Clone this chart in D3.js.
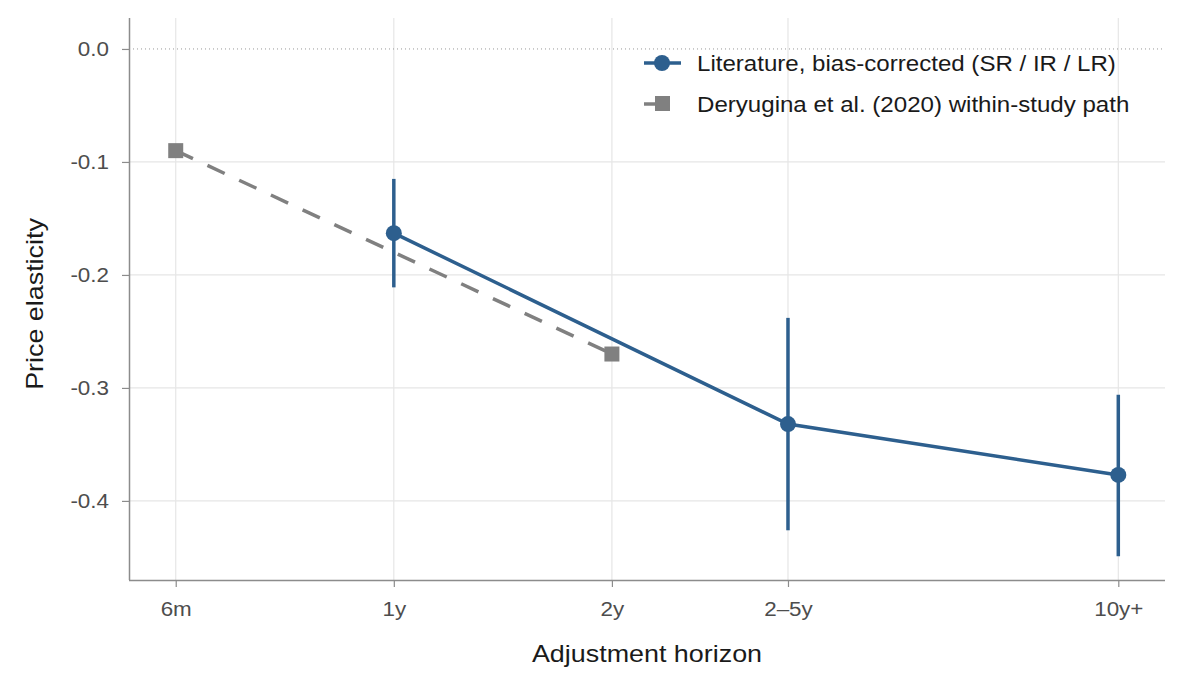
<!DOCTYPE html>
<html><head><meta charset="utf-8">
<script src="https://cdn.jsdelivr.net/npm/d3@7"></script>
<style>body{margin:0;background:#fff}svg{display:block}text{font-family:"Liberation Sans",Arial,sans-serif}</style>
</head><body><svg id="c" width="1200" height="687"></svg>
<script>
// Data
const tickValues = [0.5, 1, 2, 3.5, 10];
const tickLabels = ["6m", "1y", "2y", "2–5y", "10y+"];
const litX = [1, 3.5, 10];
const litY = [-0.163, -0.332, -0.377];
const litLo = [-0.211, -0.426, -0.449];
const litHi = [-0.115, -0.238, -0.306];
const derX = [0.5, 2];
const derY = [-0.09, -0.27];
const yTicks = [0.0, -0.1, -0.2, -0.3, -0.4];

const blue = "#2d5f8e", gray = "#808080";
const STRETCH = 1.12;
const svg = d3.select("#c");
const L = 129, R = 1165, T = 18, B = 580;
const x = d3.scaleLog().domain([0.431, 11.6]).range([L, R]);
const y = d3.scaleLinear().domain([-0.47, 0.0274]).range([B, T]);

function stretch(sel) {
  sel.each(function() {
    const len = this.getComputedTextLength();
    d3.select(this).attr("textLength", len * STRETCH).attr("lengthAdjust", "spacingAndGlyphs");
  });
}

// grid
const g = svg.append("g");
g.selectAll(".vg").data(tickValues).enter().append("line")
  .attr("x1", d => x(d)).attr("x2", d => x(d)).attr("y1", T).attr("y2", B)
  .attr("stroke", "#e6e6e6").attr("stroke-width", 1.2);
g.selectAll(".hg").data(yTicks.filter(d => d !== 0)).enter().append("line")
  .attr("x1", L).attr("x2", R).attr("y1", d => y(d)).attr("y2", d => y(d))
  .attr("stroke", "#e6e6e6").attr("stroke-width", 1.2);
g.append("line").attr("x1", L).attr("x2", R).attr("y1", y(0)).attr("y2", y(0))
  .attr("stroke", "#999").attr("stroke-width", 1).attr("stroke-dasharray", "1,3");

// axes
const xAxis = d3.axisBottom(x).tickValues(tickValues).tickFormat((d, i) => tickLabels[i]).tickSize(7).tickPadding(15);
const xa = svg.append("g").attr("transform", `translate(0,${B})`).call(xAxis);
const yAxis = d3.axisLeft(y).tickValues(yTicks).tickFormat(d => d === 0 ? "0.0" : d3.format(".1f")(d).replace("−", "-")).tickSize(7).tickPadding(13);
const ya = svg.append("g").attr("transform", `translate(${L},0)`).call(yAxis);
[xa, ya].forEach(a => {
  a.attr("font-family", null);
  a.select(".domain").attr("stroke", "#8c8c8c").attr("stroke-width", 1.5);
  a.selectAll(".tick line").attr("stroke", "#8c8c8c").attr("stroke-width", 1.2);
  a.selectAll(".tick text").attr("fill", "#4d4d4d").style("font-size", "20px");
});
xa.select(".domain").attr("d", `M${L},0.5H${R}`);
ya.select(".domain").attr("d", `M0.5,${B}V${T}`);
stretch(xa.selectAll(".tick text"));
stretch(ya.selectAll(".tick text"));

// axis titles
stretch(svg.append("text").attr("x", (L + R) / 2).attr("y", 662).attr("text-anchor", "middle")
  .style("font-size", "24px").attr("fill", "#1a1a1a").text("Adjustment horizon"));
stretch(svg.append("text").attr("transform", `translate(43,304) rotate(-90)`).attr("text-anchor", "middle")
  .style("font-size", "24px").attr("fill", "#1a1a1a").text("Price elasticity"));

// literature series
const lit = litX.map((d, i) => ({x: d, y: litY[i], lo: litLo[i], hi: litHi[i]}));
svg.selectAll(".eb").data(lit).enter().append("line")
  .attr("x1", d => x(d.x)).attr("x2", d => x(d.x)).attr("y1", d => y(d.lo)).attr("y2", d => y(d.hi))
  .attr("stroke", blue).attr("stroke-width", 3.5);
svg.append("path").datum(lit).attr("fill", "none").attr("stroke", blue).attr("stroke-width", 3.5)
  .attr("d", d3.line().x(d => x(d.x)).y(d => y(d.y)));
svg.selectAll(".pt").data(lit).enter().append("circle")
  .attr("cx", d => x(d.x)).attr("cy", d => y(d.y)).attr("r", 8).attr("fill", blue);

// Deryugina series
const der = derX.map((d, i) => ({x: d, y: derY[i]}));
svg.append("path").datum(der).attr("fill", "none").attr("stroke", gray).attr("stroke-width", 3.5)
  .attr("stroke-dasharray", "19,16")
  .attr("d", d3.line().x(d => x(d.x)).y(d => y(d.y)));
svg.selectAll(".sq").data(der).enter().append("rect")
  .attr("x", d => x(d.x) - 7.5).attr("y", d => y(d.y) - 7.5).attr("width", 15).attr("height", 15).attr("fill", gray);

// legend
const lg = svg.append("g");
lg.append("line").attr("x1", 644).attr("x2", 681).attr("y1", 63).attr("y2", 63).attr("stroke", blue).attr("stroke-width", 3.5);
lg.append("circle").attr("cx", 662).attr("cy", 63).attr("r", 8).attr("fill", blue);
stretch(lg.append("text").attr("x", 697).attr("y", 71).style("font-size", "21.5px").attr("fill", "#1a1a1a")
  .text("Literature, bias-corrected (SR / IR / LR)"));
lg.append("line").attr("x1", 644).attr("x2", 660).attr("y1", 104).attr("y2", 104).attr("stroke", gray).attr("stroke-width", 3.5);
lg.append("rect").attr("x", 655).attr("y", 96).attr("width", 15).attr("height", 15).attr("fill", gray);
stretch(lg.append("text").attr("x", 697).attr("y", 112).style("font-size", "21.5px").attr("fill", "#1a1a1a")
  .text("Deryugina et al. (2020) within-study path"));
</script></body></html>
